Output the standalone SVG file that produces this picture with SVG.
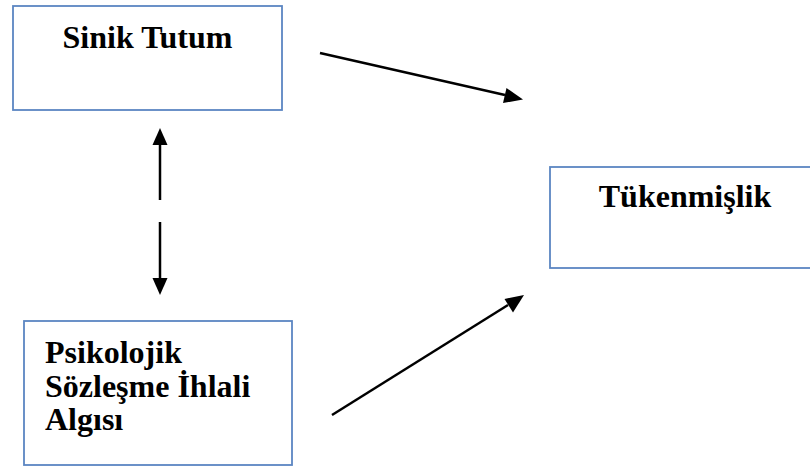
<svg xmlns="http://www.w3.org/2000/svg" width="810" height="468" viewBox="0 0 810 468">
<style>
.box{fill:#fff;stroke:#5b86c2;stroke-width:1.8}
.t{font-family:"Liberation Serif","Times New Roman",serif;font-weight:bold;font-size:32px;fill:#000}
.c{stroke:#000;stroke-width:2.5;fill:none}
</style>
<rect width="810" height="468" fill="#fff"/>
<g id="sinik">
<rect class="box" x="13" y="6" width="269" height="104"/>
<text class="t" x="147.5" y="48" text-anchor="middle">Sinik Tutum</text>
</g>
<g id="tukenmislik">
<rect class="box" x="550" y="167" width="262" height="101"/>
<text class="t" x="685" y="207" text-anchor="middle">Tükenmişlik</text>
</g>
<g id="psikolojik">
<rect class="box" x="24" y="321" width="268" height="144"/>
<text class="t" x="45" y="363">Psikolojik</text>
<text class="t" x="45" y="397">Sözleşme İhlali</text>
<text class="t" x="45" y="430">Algısı</text>
</g>
<g id="connectors">
<path d="M320,53L505,95" class="c"/>
<polygon points="523,99.5 503,103 506.5,88" fill="#000"/>
<path d="M332,415L508,305" class="c"/>
<polygon points="524,295 513,312.5 504.5,299" fill="#000"/>
<path d="M160,200V143" class="c"/>
<polygon points="160,128 152.5,145 167.5,145" fill="#000"/>
<path d="M160,222V279" class="c"/>
<polygon points="160,295 152.5,278 167.5,278" fill="#000"/>
</g>
</svg>
